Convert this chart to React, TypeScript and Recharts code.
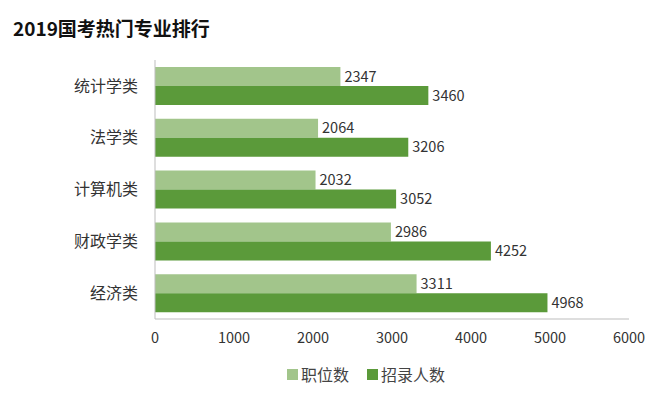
import React from 'react';
import { BarChart, Bar, XAxis, YAxis, LabelList } from 'recharts';

const categories = ['统计学类', '法学类', '计算机类', '财政学类', '经济类'];
const positions = [2347, 2064, 2032, 2986, 3311];
const recruits = [3460, 3206, 3052, 4252, 4968];
const xTicks = [0, 1000, 2000, 3000, 4000, 5000, 6000];
const seriesNames = ['职位数', '招录人数'];

const LIGHT = '#a2c58b';
const DARK = '#5b9a3a';
const FONT = '"Noto Sans CJK SC", "Noto Sans", sans-serif';

const data = categories.map((c, i) => ({ name: c, positions: positions[i], recruits: recruits[i] }));

export default function App() {
  return (
    <div style={{ position: 'absolute', left: 0, top: 0, width: 662, height: 396, background: '#fff' }}>
      <div style={{ position: 'absolute', left: 13, top: 14, fontFamily: FONT, fontWeight: 700, fontSize: 19, color: '#111', lineHeight: '28px' }}>
        2019国考热门专业排行
      </div>
      <BarChart
        width={662}
        height={396}
        data={data}
        layout="vertical"
        margin={{ top: 60, right: 33, bottom: 47, left: 0 }}
        barGap={0}
        barSize={19}
      >
        <XAxis
          type="number"
          domain={[0, 6000]}
          ticks={xTicks}
          tickLine={false}
          tickSize={0}
          tickMargin={14}
          height={30}
          axisLine={{ stroke: '#bdbdbd' }}
          tick={{ fill: '#333', fontSize: 14.5, fontFamily: FONT }}
          interval={0}
        />
        <YAxis
          type="category"
          dataKey="name"
          width={155}
          tickLine={false}
          tickSize={0}
          tickMargin={17}
          axisLine={{ stroke: '#bdbdbd' }}
          tick={{ fill: '#333', fontSize: 16, fontFamily: FONT }}
        />
        <Bar dataKey="positions" name={seriesNames[0]} fill={LIGHT} isAnimationActive={false}>
          <LabelList dataKey="positions" position="right" offset={4} style={{ fill: '#333', fontSize: 14.5, fontFamily: FONT }} />
        </Bar>
        <Bar dataKey="recruits" name={seriesNames[1]} fill={DARK} isAnimationActive={false}>
          <LabelList dataKey="recruits" position="right" offset={4} style={{ fill: '#333', fontSize: 14.5, fontFamily: FONT }} />
        </Bar>
      </BarChart>
      <div style={{ position: 'absolute', left: 287, top: 363, display: 'flex', alignItems: 'center', fontFamily: FONT, fontSize: 16, color: '#444', whiteSpace: 'nowrap', lineHeight: '22px' }}>
        <span style={{ display: 'inline-block', width: 11, height: 11, background: LIGHT, marginRight: 3 }} />
        <span style={{ marginRight: 18 }}>{seriesNames[0]}</span>
        <span style={{ display: 'inline-block', width: 11, height: 11, background: DARK, marginRight: 3 }} />
        <span>{seriesNames[1]}</span>
      </div>
    </div>
  );
}
